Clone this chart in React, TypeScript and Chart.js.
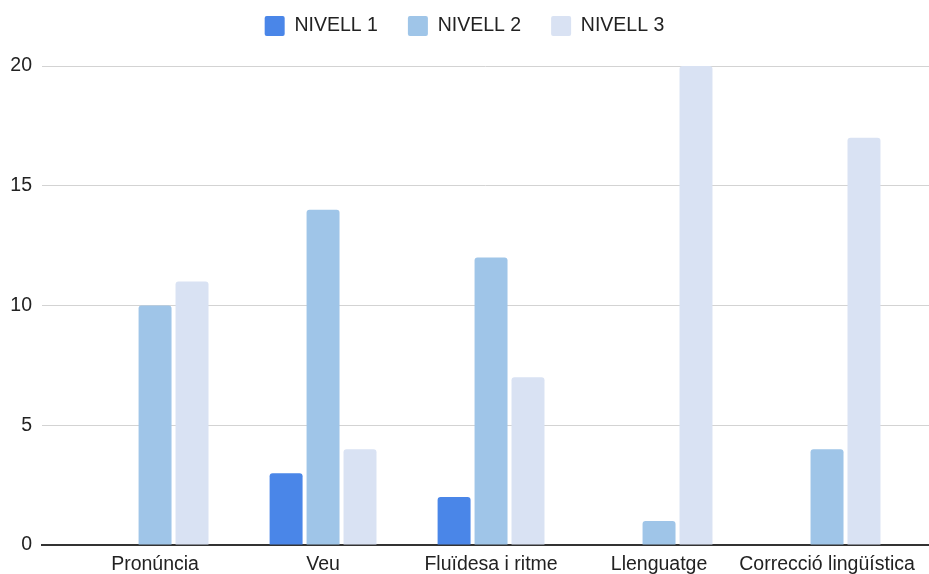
import React, { useEffect, useRef } from "react";
import { Chart, registerables } from "chart.js";

Chart.register(...registerables);

const categories = ["Pronúncia", "Veu", "Fluïdesa i ritme", "Llenguatge", "Correcció lingüística"];
const seriesNames = ["NIVELL 1", "NIVELL 2", "NIVELL 3"];
const nivell1 = [0, 3, 2, 0, 0];
const nivell2 = [10, 14, 12, 1, 4];
const nivell3 = [11, 4, 7, 20, 17];
const yTicks = [0, 5, 10, 15, 20];
const colors = ["#4a86e8", "#9fc5e8", "#d9e2f3"];

const FONT = "'Liberation Sans', Arial, Helvetica, sans-serif";

const legendSpace = {
  id: "legendSpace",
  beforeLayout(chart: any) {
    const lg = chart.legend;
    if (lg && !lg._patched) {
      const orig = lg.fit.bind(lg);
      lg.fit = function () {
        orig();
        this.height += 20;
      };
      lg._patched = true;
    }
  },
};

export default function App() {
  const ref = useRef<HTMLCanvasElement | null>(null);

  useEffect(() => {
    if (!ref.current) return;
    const series = [nivell1, nivell2, nivell3];
    const chart = new Chart(ref.current, {
      type: "bar",
      data: {
        datasets: series.map((vals, k) => ({
          label: seriesNames[k],
          data: vals.map((v, i) => ({ x: i, y: v })),
          backgroundColor: colors[k],
          borderWidth: 0,
          borderRadius: 3,
          categoryPercentage: 0.66,
          barPercentage: 0.892,
        })),
      },
      plugins: [legendSpace],
      options: {
        responsive: false,
        animation: false,
        layout: { padding: { top: -14, left: 0, right: 0, bottom: 0 } },
        plugins: {
          legend: {
            position: "top",
            labels: {
              boxWidth: 20,
              boxHeight: 20,
              padding: 30,
              color: "#222",
              useBorderRadius: true,
              borderRadius: 2,
              font: { family: FONT, size: 19.5 },
            },
          },
          tooltip: { enabled: false },
        },
        scales: {
          x: {
            type: "linear",
            offset: false,
            min: -0.673,
            max: 4.607,
            grid: { display: false, drawTicks: false },
            border: { display: true, color: "#333", width: 2 },
            afterBuildTicks: (scale: any) => {
              scale.ticks = categories.map((_, i) => ({ value: i }));
            },
            afterFit: (scale: any) => {
              scale.height = 29;
            },
            ticks: {
              autoSkip: false,
              maxRotation: 0,
              minRotation: 0,
              padding: 10,
              color: "#222",
              font: { family: FONT, size: 19.5, lineHeight: 1 },
              callback: (value: any) => categories[value as number] ?? "",
            },
          },
          y: {
            min: 0,
            max: 20,
            afterFit: (scale: any) => {
              scale.width = 42;
            },
            afterBuildTicks: (scale: any) => {
              scale.ticks = yTicks.map((v) => ({ value: v }));
            },
            grid: {
              drawTicks: false,
              color: "#d3d3d3",
              lineWidth: 1,
            },
            border: { display: false },
            ticks: {
              padding: 10,
              color: "#222",
              font: { family: FONT, size: 19.5 },
            },
          },
        },
      },
    });
    return () => chart.destroy();
  }, []);

  return (
    <div style={{ position: "fixed", left: 0, top: 0, width: 929, height: 574, background: "#fff" }}>
      <canvas ref={ref} width={929} height={574} style={{ display: "block" }} />
    </div>
  );
}
